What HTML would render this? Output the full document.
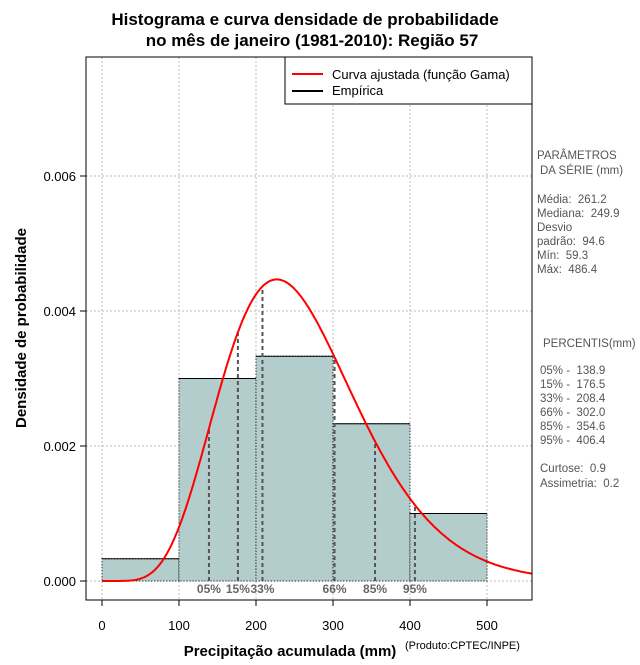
<!DOCTYPE html>
<html><head><meta charset="utf-8"><style>
body{margin:0;background:#fff;width:640px;height:660px;overflow:hidden}
svg{font-family:"Liberation Sans",sans-serif}
text{white-space:pre}
</style></head><body>
<svg id="c" width="640" height="660">
<text x="305" y="25" text-anchor="middle" font-size="17" font-weight="bold">Histograma e curva densidade de probabilidade</text>
<text x="312" y="46" text-anchor="middle" font-size="17" font-weight="bold">no mês de janeiro (1981-2010): Região 57</text>
<g id="grid"></g><g id="bars"></g><g id="pct"></g><g id="curve"></g><g id="axes"></g>
<rect x="86" y="57" width="446" height="543" fill="none" stroke="#000"/>
<g>
<rect x="285" y="57" width="247" height="47" fill="#fff" stroke="#000"/>
<line x1="292" y1="74" x2="323" y2="74" stroke="red" stroke-width="2"/>
<text x="332" y="79" font-size="13">Curva ajustada (função Gama)</text>
<line x1="292" y1="91" x2="323" y2="91" stroke="#000" stroke-width="2"/>
<text x="332" y="95" font-size="13">Empírica</text>
</g>
<text transform="translate(26,328) rotate(-90)" text-anchor="middle" font-size="15" font-weight="bold">Densidade de probabilidade</text>
<text x="290" y="656" text-anchor="middle" font-size="15" font-weight="bold">Precipitação acumulada (mm)</text>
<text x="405" y="649" font-size="11">(Produto:CPTEC/INPE)</text>
<g font-size="11.5" fill="#555">
<text x="537" y="159">PARÂMETROS</text><text x="540" y="174">DA SÉRIE (mm)</text>
<text x="537" y="203">Média:  261.2</text><text x="537" y="217">Mediana:  249.9</text>
<text x="537" y="231">Desvio</text><text x="537" y="245">padrão:  94.6</text>
<text x="537" y="259">Mín:  59.3</text><text x="537" y="273">Máx:  486.4</text>
<text x="543" y="347">PERCENTIS(mm)</text>
<text x="540" y="374">05% -  138.9</text><text x="540" y="388">15% -  176.5</text>
<text x="540" y="402">33% -  208.4</text><text x="540" y="416">66% -  302.0</text>
<text x="540" y="430">85% -  354.6</text><text x="540" y="444">95% -  406.4</text>
<text x="540" y="472">Curtose:  0.9</text><text x="540" y="487">Assimetria:  0.2</text>
</g>
</svg>
<script>
const binStarts=[0,100,200,300,400];
const binDensity=[0.00033,0.0030,0.00333,0.00233,0.0010];
const pctLabels=["05%","15%","33%","66%","85%","95%"];
const pctValues=[138.9,176.5,208.4,302.0,354.6,406.4];
const xTicks=[0,100,200,300,400,500];
const yTicks=[0,0.002,0.004,0.006];
const yTickLabels=["0.000","0.002","0.004","0.006"];
const mean=261.2, sd=94.6;
const X=v=>102+v*0.77, Y=v=>581-v*67500;
const NS="http://www.w3.org/2000/svg";
function mk(p,t,a){const e=document.createElementNS(NS,t);for(const k in a)e.setAttribute(k,a[k]);document.getElementById(p).appendChild(e);return e;}
function lgamma(z){const g=7,c=[0.99999999999980993,676.5203681218851,-1259.1392167224028,771.32342877765313,-176.61502916214059,12.507343278686905,-0.13857109526572012,9.9843695780195716e-6,1.5056327351493116e-7];z-=1;let x=c[0];for(let i=1;i<9;i++)x+=c[i]/(z+i);const t=z+g+0.5;return 0.5*Math.log(2*Math.PI)+(z+0.5)*Math.log(t)-t+Math.log(x);}
const k=(mean/sd)**2, th=sd*sd/mean;
const dens=x=>x<=0?0:Math.exp((k-1)*Math.log(x)-x/th-lgamma(k)-k*Math.log(th));
xTicks.forEach(v=>{
 let e=mk('grid','line',{x1:X(v),x2:X(v),y1:57,y2:600,stroke:'#bbb','stroke-dasharray':'2,2'});
 
 e=mk('axes','line',{x1:X(v),x2:X(v),y1:600,y2:606,stroke:'#000'});
 
 e=mk('axes','text',{x:X(v),y:630,'text-anchor':'middle','font-size':13});e.textContent=v;
 
});
yTicks.forEach((v,i)=>{
 let e=mk('grid','line',{x1:86,x2:532,y1:Y(v),y2:Y(v),stroke:'#bbb','stroke-dasharray':'2,2'});
 
 e=mk('axes','line',{x1:80,x2:86,y1:Y(v),y2:Y(v),stroke:'#000'});
 
 e=mk('axes','text',{x:76,y:Y(v)+5,'text-anchor':'end','font-size':13});e.textContent=yTickLabels[i];
 
});
binStarts.forEach((s,i)=>{
 const x0=X(s),x1=X(s+100),y=Y(binDensity[i]);
 let e=mk('bars','rect',{x:x0,y:y,width:x1-x0,height:Y(0)-y,fill:'#b3cccc',stroke:'#000','stroke-dasharray':'1,2'});
 
 e=mk('bars','line',{x1:x0,x2:x1,y1:y,y2:y,stroke:'#000'});
 
});
pctValues.forEach((v,i)=>{
 let e=mk('pct','line',{x1:X(v),x2:X(v),y1:Y(0),y2:Y(dens(v)),stroke:'#555','stroke-width':2,'stroke-dasharray':'4,3'});
 
 e=mk('pct','text',{x:X(v),y:593,'text-anchor':'middle','font-size':12,'font-weight':'bold',fill:'#666'});e.textContent=pctLabels[i];
 
});
let d='';for(let x=0;x<=560;x+=2){const px=X(x);if(px>532)break;d+=(x?'L':'M')+px.toFixed(1)+','+Y(dens(x)).toFixed(1);}
d+='L532,'+Y(dens((532-102)/0.77)).toFixed(1);
const cv=mk('curve','path',{d:d,fill:'none',stroke:'red','stroke-width':2});


</script>
</body></html>
